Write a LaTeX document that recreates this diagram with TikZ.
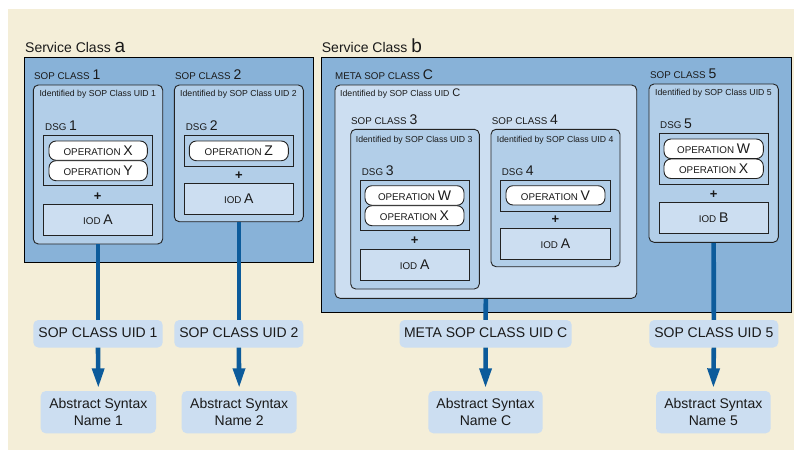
\documentclass[tikz,border=0pt]{standalone}
\usepackage{fontspec}
\setmainfont{Liberation Sans}
\usetikzlibrary{fit,arrows.meta}
\definecolor{cream}{HTML}{F4EED8}
\definecolor{svc}{HTML}{88B2D8}
\definecolor{cls}{HTML}{B2CEE8}
\definecolor{lite}{HTML}{CCDEF1}
\definecolor{linec}{HTML}{0C5B9B}
\definecolor{txt}{HTML}{1A1A1A}
\definecolor{edge}{HTML}{222222}
\newcommand\smc[1]{{\fontsize{9.8pt}{11pt}\selectfont #1}}
\newcommand\bgc[1]{{\fontsize{14pt}{16pt}\selectfont #1}}
\newcommand\idf[1]{{\fontsize{8.7pt}{10pt}\selectfont #1}}
\newcommand\svct[1]{{\fontsize{14pt}{16pt}\selectfont Service Class {\fontsize{19pt}{20pt}\selectfont #1}}}
\begin{document}
\begin{tikzpicture}[x=1pt,y=-1pt,
  svcbox/.style={draw=black, line width=0.9pt, fill=svc, inner sep=0pt},
  clsbox/.style={draw=edge, line width=0.9pt, fill=cls, rounded corners=5pt, inner sep=0pt},
  metabox/.style={draw=edge, line width=0.9pt, fill=lite, rounded corners=5pt, inner sep=0pt},
  dsgbox/.style={draw=edge, line width=0.9pt, fill=cls, inner sep=0pt},
  pill/.style={draw=edge, line width=0.9pt, fill=white, rounded corners=7pt, inner sep=0pt},
  iodbox/.style={draw=edge, line width=0.9pt, fill=lite, inner sep=0pt},
  uidbox/.style={fill=lite, rounded corners=5pt, inner sep=0pt},
  txtc/.style={inner sep=0pt, text=txt, anchor=center},
  big/.style={txtc, font=\fontsize{14pt}{16.7pt}\selectfont, align=center},
  lbl/.style={anchor=base west, inner sep=0pt, text=txt},
  plus/.style={inner sep=0pt, text=txt, font=\fontsize{13pt}{15pt}\selectfont\bfseries},
  conn/.style={draw=linec, line width=4.6pt},
  arr/.style={conn, -{Triangle[width=11.5pt,length=20pt]}, shorten >=2.5pt}
]
\useasboundingbox (0,0) rectangle (794,450);
\fill[cream] (8,9) rectangle (794,450);

% Service class a
\node[lbl] (sca) at (25,52.7) {\svct{a}};
\node[svcbox, fit={(24,57) (313,262)}] (svca) {};
% SOP class 1
\node[lbl] (l1) at (34,79.3) {\smc{SOP CLASS} \bgc{1}};
\node[clsbox, fit={(33.3,85) (162.7,244)}] (cls1) {};
\node[lbl] (i1) at (39.3,96.7) {\idf{Identified by SOP Class UID 1}};
\node[lbl] (d1) at (45,130.7) {\smc{DSG} \bgc{1}};
\node[dsgbox, fit={(43.3,135.7) (152.7,185.7)}] (dsg1) {};
\node[pill, fit={(49,141) (147.3,160.3)}] (op1x) {};
\node[txtc] (t1x) at (op1x.center) {\smc{OPERATION} \bgc{X}};
\node[pill, fit={(49,160.7) (147.3,180.7)}] (op1y) {};
\node[txtc] (t1y) at (op1y.center) {\smc{OPERATION} \bgc{Y}};
\node[plus] (p1) at (97.7,196.7) {+};
\node[iodbox, fit={(43.3,204) (152.7,235)}] (iod1) {};
\node[txtc] (ti1) at (iod1.center) {\smc{IOD} \bgc{A}};
% SOP class 2
\node[lbl] (l2) at (175,79.3) {\smc{SOP CLASS} \bgc{2}};
\node[clsbox, fit={(174.3,85) (303.3,221.7)}] (cls2) {};
\node[lbl] (i2) at (180,96.7) {\idf{Identified by SOP Class UID 2}};
\node[lbl] (d2) at (185.7,130.7) {\smc{DSG} \bgc{2}};
\node[dsgbox, fit={(184.3,135.7) (293.3,166)}] (dsg2) {};
\node[pill, fit={(189.3,141) (288.3,160.7)}] (op2z) {};
\node[txtc] (t2z) at (op2z.center) {\smc{OPERATION} \bgc{Z}};
\node[plus] (p2) at (238.8,176) {+};
\node[iodbox, fit={(184.3,183.3) (293.3,214)}] (iod2) {};
\node[txtc] (ti2) at (iod2.center) {\smc{IOD} \bgc{A}};

% Service class b
\node[lbl] (scb) at (321.7,52.7) {\svct{b}};
\node[svcbox, fit={(321.7,57) (791.7,312)}] (svcb) {};
% Meta SOP class
\node[lbl] (lm) at (335,79.3) {\smc{META SOP CLASS} \bgc{C}};
\node[metabox, fit={(335,85) (636.7,298.3)}] (meta) {};
\node[lbl] (im) at (340,96.7) {\idf{Identified by SOP Class UID} {\fontsize{11pt}{12pt}\selectfont C}};
% SOP class 3
\node[lbl] (l3) at (351,124.3) {\smc{SOP CLASS} \bgc{3}};
\node[clsbox, fit={(350.7,129.3) (479.3,289)}] (cls3) {};
\node[lbl] (i3) at (355.7,142.7) {\idf{Identified by SOP Class UID 3}};
\node[lbl] (d3) at (361.7,175.7) {\smc{DSG} \bgc{3}};
\node[dsgbox, fit={(360,180) (469.3,230.7)}] (dsg3) {};
\node[pill, fit={(365,185.7) (464,205.3)}] (op3w) {};
\node[txtc] (t3w) at (op3w.center) {\smc{OPERATION} \bgc{W}};
\node[pill, fit={(365,205.7) (464,225.7)}] (op3x) {};
\node[txtc] (t3x) at (op3x.center) {\smc{OPERATION} \bgc{X}};
\node[plus] (p3) at (414.6,240.7) {+};
\node[iodbox, fit={(360,249) (469.3,280)}] (iod3) {};
\node[txtc] (ti3) at (iod3.center) {\smc{IOD} \bgc{A}};
% SOP class 4
\node[lbl] (l4) at (491.7,124.3) {\smc{SOP CLASS} \bgc{4}};
\node[clsbox, fit={(491,129.3) (620,266.7)}] (cls4) {};
\node[lbl] (i4) at (496.7,142.7) {\idf{Identified by SOP Class UID 4}};
\node[lbl] (d4) at (501.7,175.7) {\smc{DSG} \bgc{4}};
\node[dsgbox, fit={(500.7,180) (610,211)}] (dsg4) {};
\node[pill, fit={(506,185.7) (605,205)}] (op4v) {};
\node[txtc] (t4v) at (op4v.center) {\smc{OPERATION} \bgc{V}};
\node[plus] (p4) at (555.3,219.3) {+};
\node[iodbox, fit={(500.7,228.3) (610,259.3)}] (iod4) {};
\node[txtc] (ti4) at (iod4.center) {\smc{IOD} \bgc{A}};
% SOP class 5
\node[lbl] (l5) at (650,78) {\smc{SOP CLASS} \bgc{5}};
\node[clsbox, fit={(649,84) (778.3,242.3)}] (cls5) {};
\node[lbl] (i5) at (655,95.5) {\idf{Identified by SOP Class UID 5}};
\node[lbl] (d5) at (660,128.5) {\smc{DSG} \bgc{5}};
\node[dsgbox, fit={(659,133.5) (768.3,184)}] (dsg5) {};
\node[pill, fit={(664,139) (763.3,158.6)}] (op5w) {};
\node[txtc] (t5w) at (op5w.center) {\smc{OPERATION} \bgc{W}};
\node[pill, fit={(664,159) (763.3,178.5)}] (op5x) {};
\node[txtc] (t5x) at (op5x.center) {\smc{OPERATION} \bgc{X}};
\node[plus] (p5) at (713.6,195) {+};
\node[iodbox, fit={(659,202.7) (768.3,233.3)}] (iod5) {};
\node[txtc] (ti5) at (iod5.center) {\smc{IOD} \bgc{B}};

% UID boxes
\node[uidbox, fit={(33.3,320) (162.7,347.5)}] (uid1) {};
\node[big] (tu1) at ([yshift=1pt]uid1.center) {SOP CLASS UID 1};
\node[uidbox, fit={(174.3,320) (303.3,347.5)}] (uid2) {};
\node[big] (tu2) at ([yshift=1pt]uid2.center) {SOP CLASS UID 2};
\node[uidbox, fit={(399.5,320) (571.7,347.5)}] (uidc) {};
\node[big] (tuc) at ([yshift=1pt]uidc.center) {META SOP CLASS UID C};
\node[uidbox, fit={(649.3,320) (778.3,347.5)}] (uid5) {};
\node[big] (tu5) at ([yshift=1pt]uid5.center) {SOP CLASS UID 5};

% Abstract syntax boxes
\node[uidbox, fit={(40.7,391) (156,433.3)}] (abs1) {};
\node[big] (ta1) at (abs1.center) {Abstract Syntax\\Name 1};
\node[uidbox, fit={(181.7,391) (296.7,433.3)}] (abs2) {};
\node[big] (ta2) at (abs2.center) {Abstract Syntax\\Name 2};
\node[uidbox, fit={(428.3,391) (542.7,433.3)}] (absc) {};
\node[big] (tac) at (absc.center) {Abstract Syntax\\Name C};
\node[uidbox, fit={(656,391) (770.7,433.3)}] (abs5) {};
\node[big] (ta5) at (abs5.center) {Abstract Syntax\\Name 5};

% connectors
\draw[conn] (cls1.south) -- (uid1.north);
\draw[conn] (cls2.south) -- (uid2.north);
\draw[conn] (meta.south) -- (uidc.north);
\draw[conn] (cls5.south) -- (uid5.north);
\draw[arr] (uid1.south) -- (abs1.north);
\draw[arr] (uid2.south) -- (abs2.north);
\draw[arr] (uidc.south) -- (absc.north);
\draw[arr] (uid5.south) -- (abs5.north);
\end{tikzpicture}
\end{document}
